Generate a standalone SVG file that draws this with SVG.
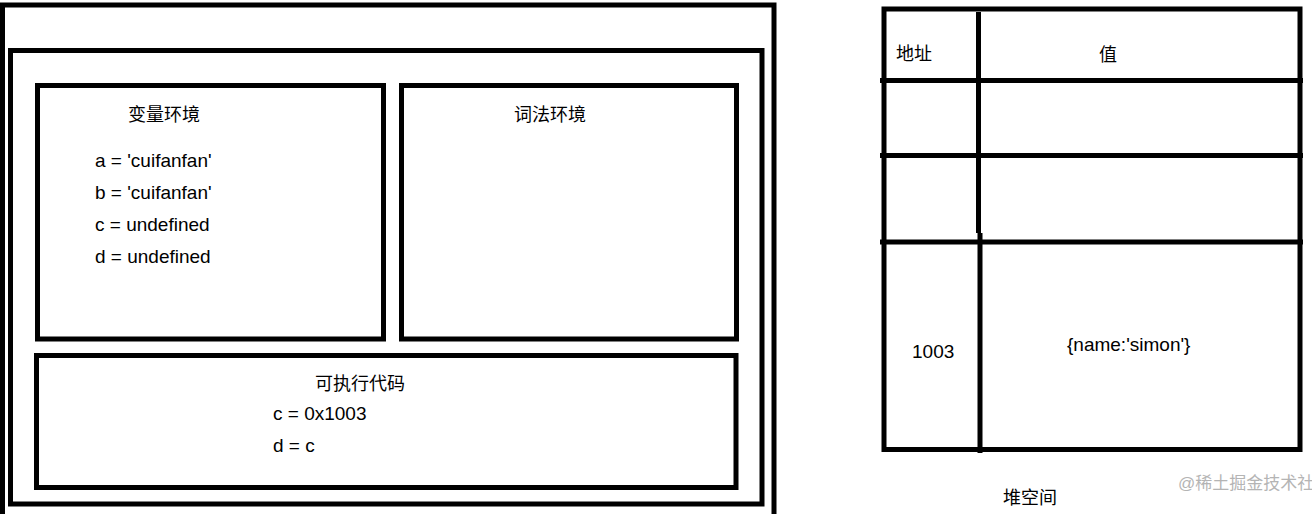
<svg xmlns="http://www.w3.org/2000/svg" width="1312" height="514" viewBox="0 0 1312 514">
<style>
.box{fill:none;stroke:#000;stroke-width:5}
.ln{stroke:#000;stroke-width:5;fill:none}
.t{font-family:"Liberation Sans","Noto Sans CJK SC",sans-serif;font-size:18px;fill:#000}
.l{font-family:"Liberation Sans","Noto Sans CJK SC",sans-serif;font-size:19px;fill:#000}
.wm{font-family:"Liberation Sans","Noto Sans CJK SC",sans-serif;font-size:17px;fill:#b4b4b4}
</style>
<rect width="1312" height="514" fill="#fff"/>
<g id="execution-context">
<rect class="box" x="2.5" y="5" width="771.5" height="520"/>
</g>
<g id="context-inner">
<rect class="box" x="10.5" y="50.5" width="751.5" height="453.5"/>
</g>
<g id="variable-environment">
<rect class="box" x="37.5" y="85.5" width="346" height="253.5"/>
<text class="t" x="128" y="121">变量环境</text>
<text class="l" x="95" y="167">a = 'cuifanfan'</text>
<text class="l" x="95" y="199">b = 'cuifanfan'</text>
<text class="l" x="95" y="231">c = undefined</text>
<text class="l" x="95" y="263">d = undefined</text>
</g>
<g id="lexical-environment">
<rect class="box" x="401.5" y="85.5" width="335" height="253.5"/>
<text class="t" x="514" y="121">词法环境</text>
</g>
<g id="executable-code">
<rect class="box" x="36.5" y="355.5" width="699.5" height="132"/>
<text class="t" x="315" y="390">可执行代码</text>
<text class="l" x="273" y="420">c = 0x1003</text>
<text class="l" x="273" y="452">d = c</text>
</g>
<g id="heap-table">
<rect class="box" x="884" y="9" width="416" height="440.5"/>
<line class="ln" x1="978.5" y1="12" x2="978.5" y2="233"/>
<line class="ln" x1="980" y1="233" x2="980" y2="453"/>
<line class="ln" x1="880" y1="80.5" x2="1303" y2="80.5"/>
<line class="ln" x1="880" y1="155.5" x2="1303" y2="155.5"/>
<line class="ln" x1="880" y1="242" x2="1303" y2="242"/>
<text class="t" x="896" y="60">地址</text>
<text class="t" x="1099" y="61">值</text>
<text class="l" x="912" y="358">1003</text>
<text class="l" x="1067" y="351">{name:'simon'}</text>
<text class="t" x="1003" y="504">堆空间</text>
</g>
<g id="connectors"></g>
<text class="wm" x="1178" y="489">@稀土掘金技术社区</text>
</svg>
